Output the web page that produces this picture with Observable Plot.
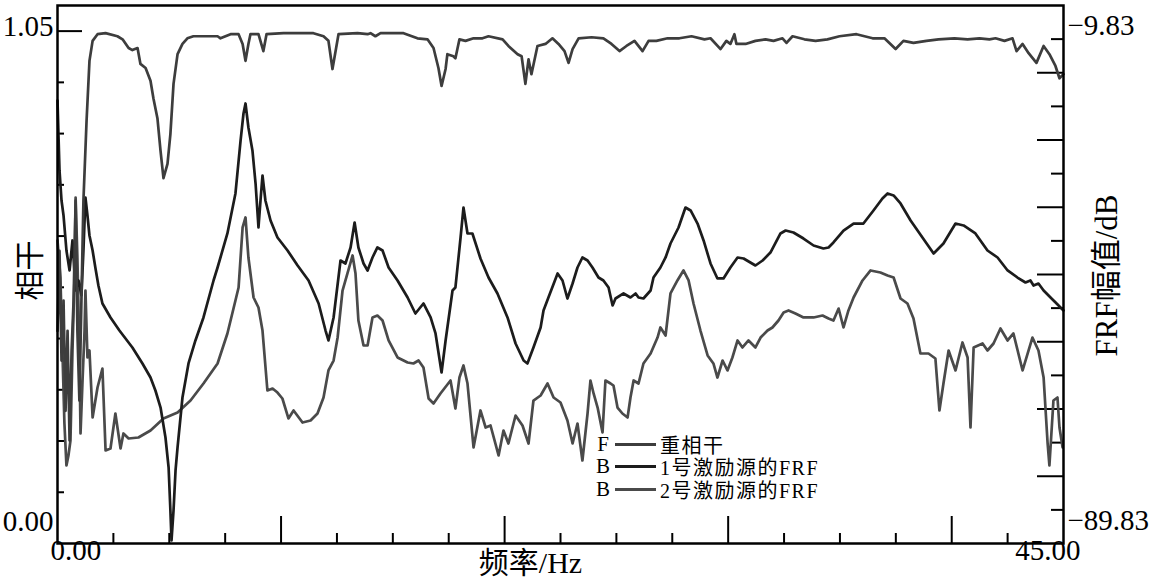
<!DOCTYPE html>
<html><head><meta charset="utf-8">
<script src="https://cdn.jsdelivr.net/npm/d3@7"></script>
<script src="https://cdn.jsdelivr.net/npm/@observablehq/plot@0.6"></script>
<style>
html,body{margin:0;padding:0;background:#fff}
#wrap{position:relative;width:1152px;height:586px;overflow:hidden}
#legend{position:absolute;left:595px;top:433px;font-family:"Liberation Serif","Noto Sans CJK SC",serif;font-size:20px;color:#000}
.row{display:flex;align-items:center;height:22.5px;white-space:nowrap}
.k{flex:none;width:16px;text-align:center;font-size:21px}
.lab{flex:none;letter-spacing:1.5px}
.ln{flex:none;display:inline-block;width:41px;height:3px;margin:0 4px}
</style></head>
<body><div id="wrap"><div id="legend"></div></div>
<script>
// ---- axis / label data ----
const xDomain = [0, 45];
const cohMax = 1.05;
const dbRange = [-89.83, -9.83];
const xMajor = [10, 20, 30, 40];
const xMinor = [2.5, 5, 7.5, 12.5, 15, 17.5, 22.5, 25, 27.5, 32.5, 35, 37.5, 42.5];
const leftMinor = [0.1, 0.2, 0.3, 0.4, 0.5, 0.6, 0.7, 0.8, 0.9];
const leftMajor = [1.0];
const rightMajor = [-19.83, -29.83, -39.83, -49.83, -59.83, -69.83, -79.83];
const rightMinor = [-14.83, -24.83, -34.83, -44.83, -54.83, -64.83, -74.83, -84.83];
const leftLabels = ["0.00", "1.05"];
const rightLabels = ["\u221289.83", "\u22129.83"];
const xLabels = ["0.00", "45.00"];
const xTitle = "频率/Hz";
const yTitleLeft = "相干";
const yTitleRight = "FRF幅值/dB";
const legendKeys = ["F", "B", "B"];
const legendLabels = ["重相干", "1号激励源的FRF", "2号激励源的FRF"];
const seriesColors = ["#3d3d3d", "#1c1c1c", "#4a4a4a"];

// ---- coherence ----
const cohF = [0.00,0.09,0.18,0.27,0.36,0.45,0.54,0.63,0.72,0.81,
0.89,0.98,1.07,1.16,1.30,1.43,1.57,1.79,2.15,2.68,
2.91,3.18,3.35,3.58,3.71,3.94,4.16,4.29,4.47,4.61,
4.74,4.92,5.05,5.19,5.37,5.59,5.81,6.08,7.16,7.29,
7.74,8.10,8.28,8.41,8.54,8.63,8.99,9.21,9.35,10.11,
11.45,11.90,12.12,12.30,12.44,12.57,13.42,13.87,14.00,14.22,
14.45,15.48,16.10,16.55,16.82,17.04,17.18,17.36,17.44,17.71,
17.80,17.98,18.25,18.61,19.01,19.28,19.91,20.17,20.58,20.76,
20.93,21.07,21.20,21.47,21.83,22.14,22.41,22.68,22.86,23.04,
23.31,23.89,24.42,24.78,25.14,25.45,25.81,26.17,26.44,26.79,
27.29,27.82,28.36,28.94,29.21,29.66,29.92,30.10,30.28,30.37,
30.78,31.22,31.67,32.03,32.43,32.61,32.88,33.41,33.91,34.44,
34.98,35.74,36.46,36.99,37.49,37.84,38.29,38.87,39.41,40.12,
40.71,41.24,41.69,41.96,42.36,42.72,42.90,43.17,43.44,43.79,
44.11,44.37,44.64,44.82,45.00];
const cohV = [0.415,0.571,0.357,0.474,0.259,0.415,0.201,0.376,0.474,0.669,
0.415,0.279,0.474,0.669,0.825,0.942,0.981,0.994,0.996,0.990,
0.984,0.967,0.963,0.967,0.936,0.928,0.903,0.869,0.830,0.766,
0.713,0.741,0.799,0.897,0.955,0.975,0.986,0.990,0.990,0.986,
0.994,0.994,0.975,0.942,0.975,0.994,0.994,0.961,0.994,0.996,
0.996,0.990,0.981,0.926,0.961,0.994,0.996,0.994,0.996,0.990,
0.996,0.996,0.986,0.984,0.967,0.928,0.893,0.926,0.955,0.951,
0.947,0.984,0.981,0.986,0.986,0.990,0.984,0.971,0.955,0.951,
0.897,0.945,0.916,0.971,0.975,0.986,0.975,0.961,0.938,0.965,
0.986,0.988,0.986,0.975,0.961,0.971,0.981,0.961,0.981,0.981,
0.986,0.986,0.990,0.984,0.986,0.965,0.981,0.975,0.994,0.975,
0.975,0.981,0.984,0.981,0.986,0.977,0.990,0.984,0.981,0.984,
0.990,0.994,0.986,0.986,0.965,0.981,0.977,0.981,0.984,0.986,
0.984,0.986,0.984,0.986,0.981,0.986,0.961,0.975,0.957,0.938,
0.971,0.955,0.932,0.908,0.916];

// ---- FRF of source 1 (dB) ----
const frf1F = [0.00,0.09,0.18,0.27,0.40,0.54,0.67,0.81,0.94,1.07,
1.16,1.25,1.34,1.43,1.57,1.70,1.83,2.01,2.37,2.77,
3.35,3.80,4.16,4.38,4.61,4.83,4.97,5.05,5.10,5.19,
5.28,5.37,5.59,5.86,6.17,6.53,6.98,7.16,7.60,7.96,
8.19,8.32,8.41,8.54,8.72,8.86,8.99,9.08,9.17,9.30,
9.53,9.84,10.29,10.74,11.23,11.68,11.99,12.12,12.35,12.66,
12.88,13.11,13.29,13.46,13.69,13.87,14.09,14.31,14.54,14.81,
15.21,15.66,16.01,16.37,16.69,16.91,17.18,17.36,17.67,17.80,
18.03,18.16,18.34,18.56,18.92,19.28,19.68,20.13,20.49,20.85,
21.02,21.29,21.61,21.74,21.96,22.37,22.59,22.81,23.04,23.26,
23.48,23.71,23.93,24.20,24.42,24.65,24.83,24.96,25.32,25.63,
25.86,25.99,26.21,26.53,26.66,26.97,27.20,27.42,27.78,28.09,
28.32,28.63,28.90,29.21,29.52,29.79,30.10,30.42,30.69,31.22,
31.54,31.89,32.34,32.57,32.92,33.37,33.82,34.26,34.49,34.71,
35.16,35.61,36.05,36.50,36.90,37.13,37.40,37.71,38.16,38.69,
39.19,39.63,40.17,40.53,41.06,41.60,42.05,42.50,42.94,43.30,
43.52,43.66,43.88,44.11,44.42,44.69,45.00];
const frf1Db = [-23.96,-34.36,-38.83,-41.06,-46.26,-49.23,-44.77,-52.21,-50.72,-52.95,
-46.26,-38.38,-41.06,-44.03,-46.26,-48.94,-51.47,-54.14,-56.22,-58.16,
-60.68,-63.06,-65.15,-67.08,-69.61,-74.07,-78.53,-84.92,-89.38,-84.92,
-78.97,-75.55,-68.12,-63.06,-59.64,-56.22,-50.72,-48.79,-43.73,-37.78,
-29.90,-25.89,-24.40,-27.97,-31.39,-36.30,-42.84,-38.83,-35.11,-38.83,
-41.80,-44.33,-46.26,-48.49,-50.72,-54.14,-58.16,-59.64,-56.22,-47.75,
-48.19,-45.81,-42.10,-45.81,-48.19,-49.23,-47.30,-45.81,-46.26,-48.79,
-50.72,-53.25,-55.63,-54.14,-56.22,-58.60,-64.40,-59.64,-52.21,-51.76,
-44.33,-39.87,-43.73,-43.73,-47.45,-50.28,-52.65,-56.22,-60.09,-62.62,
-63.06,-60.68,-57.71,-55.18,-53.25,-49.68,-50.72,-53.40,-51.17,-48.79,
-47.30,-47.75,-48.79,-50.28,-50.72,-51.76,-54.44,-53.40,-52.65,-53.25,
-52.65,-53.25,-53.40,-52.21,-50.28,-48.79,-47.30,-45.22,-42.84,-39.87,
-40.31,-42.25,-44.77,-48.19,-50.42,-50.42,-48.79,-47.30,-47.45,-48.49,
-47.75,-46.56,-43.73,-43.29,-43.58,-44.48,-45.52,-45.96,-45.81,-45.07,
-43.29,-42.25,-42.25,-40.31,-38.53,-37.78,-38.08,-39.27,-41.80,-44.33,
-46.71,-45.22,-42.25,-42.54,-43.73,-46.26,-47.30,-49.23,-50.28,-51.02,
-50.72,-51.47,-51.17,-52.21,-53.25,-54.14,-55.18];

// ---- FRF of source 2 (dB) ----
const frf2F = [0.00,0.13,0.22,0.31,0.40,0.49,0.58,0.67,0.76,0.81,
0.89,0.98,1.03,1.12,1.21,1.25,1.34,1.43,1.57,1.79,
2.01,2.15,2.37,2.59,2.82,2.95,3.18,3.62,4.16,4.74,
5.37,5.95,6.53,7.16,7.60,7.96,8.10,8.28,8.41,8.54,
8.77,8.99,9.17,9.39,9.62,9.84,10.06,10.33,10.56,10.96,
11.32,11.63,11.90,12.12,12.35,12.53,12.75,12.97,13.20,13.33,
13.46,13.69,13.87,14.09,14.31,14.54,14.81,15.21,15.66,15.92,
16.15,16.37,16.60,16.82,17.13,17.58,17.80,17.98,18.16,18.34,
18.61,18.92,19.15,19.37,19.73,19.95,20.17,20.49,20.80,21.07,
21.29,21.61,21.92,22.19,22.50,22.81,23.04,23.26,23.48,23.71,
23.84,23.98,24.16,24.38,24.51,24.74,24.87,25.05,25.27,25.50,
25.63,25.77,25.99,26.21,26.53,26.84,26.97,27.20,27.42,27.73,
28.00,28.23,28.45,28.76,29.08,29.34,29.52,29.75,29.97,30.19,
30.42,30.64,30.91,31.22,31.45,31.76,31.98,32.25,32.48,32.70,
33.01,33.37,33.82,34.22,34.49,34.71,34.94,35.16,35.38,35.61,
36.01,36.37,36.81,37.13,37.40,37.71,38.02,38.29,38.60,38.96,
39.27,39.45,39.63,39.86,40.17,40.48,40.71,40.84,40.98,41.38,
41.60,41.87,42.18,42.50,42.76,43.17,43.61,43.88,44.11,44.29,
44.37,44.55,44.73,44.82,44.96];
const frf2Db = [-44.77,-50.28,-61.13,-71.99,-78.23,-76.74,-74.51,-61.13,-50.28,-38.38,
-47.30,-61.13,-73.47,-65.59,-58.16,-52.21,-62.17,-61.13,-71.09,-66.63,
-63.81,-76.00,-75.70,-70.50,-75.70,-73.47,-74.22,-74.07,-73.03,-71.24,
-70.35,-68.57,-66.04,-63.06,-58.60,-53.70,-51.76,-42.84,-41.35,-47.30,
-53.25,-54.74,-58.16,-67.08,-66.78,-67.38,-68.27,-71.24,-70.05,-71.84,
-71.54,-70.50,-68.12,-64.10,-62.62,-59.20,-52.21,-49.68,-47.00,-49.68,
-56.67,-60.39,-60.39,-56.22,-55.93,-56.67,-59.64,-62.17,-62.92,-63.06,
-62.62,-63.66,-68.27,-69.01,-67.52,-65.59,-69.76,-65.15,-63.36,-66.04,
-75.55,-70.05,-72.58,-72.28,-76.74,-73.03,-74.96,-70.80,-72.28,-74.96,
-68.57,-67.82,-66.04,-68.12,-68.86,-71.54,-74.96,-71.99,-77.49,-70.50,
-65.59,-67.52,-69.61,-73.32,-65.59,-66.04,-66.34,-69.61,-70.50,-71.09,
-68.12,-65.59,-66.04,-63.06,-61.58,-59.20,-57.71,-58.90,-52.65,-50.72,
-49.23,-50.72,-54.14,-58.16,-61.87,-63.06,-65.15,-62.62,-64.10,-62.17,
-59.64,-60.68,-59.64,-60.68,-59.20,-58.16,-57.71,-56.67,-55.48,-55.18,
-55.63,-56.22,-56.22,-55.93,-56.37,-56.67,-54.89,-57.71,-55.18,-53.25,
-50.72,-49.23,-49.53,-49.98,-50.28,-53.40,-54.14,-56.37,-61.58,-61.58,
-62.32,-70.05,-66.04,-61.13,-64.10,-59.94,-62.17,-72.58,-60.68,-60.09,
-61.13,-60.09,-57.86,-59.64,-58.60,-64.10,-59.20,-61.13,-65.15,-74.96,
-78.23,-68.57,-68.12,-72.58,-75.55];

// ---- build ----
const serif = '"Liberation Serif","Noto Sans CJK SC",serif';
const toY = db => (db - dbRange[0]) / (dbRange[1] - dbRange[0]) * cohMax;
const coh = cohF.map((f, i) => ({f, v: cohV[i]}));
const frf1 = frf1F.map((f, i) => ({f, v: toY(frf1Db[i])}));
const frf2 = frf2F.map((f, i) => ({f, v: toY(frf2Db[i])}));
const blank = () => "";
const tickCommon = {label: null, tickFormat: blank, stroke: "#000", strokeWidth: 2};
const txt = {text: d => d, fill: "#000"};

const chart = Plot.plot({
  width: 1152, height: 586,
  marginLeft: 57, marginRight: 89, marginTop: 5, marginBottom: 43,
  style: {fontFamily: serif, background: "#fff", color: "#000", overflow: "visible"},
  x: {domain: xDomain, axis: null},
  y: {domain: [0, cohMax], axis: null},
  marks: [
    Plot.axisY({anchor: "left", ticks: leftMinor, tickSize: -7, ...tickCommon}),
    Plot.axisY({anchor: "left", ticks: leftMajor, tickSize: -25, ...tickCommon}),
    Plot.axisY({anchor: "right", ticks: rightMinor.map(toY), tickSize: -13, ...tickCommon}),
    Plot.axisY({anchor: "right", ticks: rightMajor.map(toY), tickSize: -27, ...tickCommon}),
    Plot.axisX({anchor: "bottom", ticks: xMinor, tickSize: -10, ...tickCommon}),
    Plot.axisX({anchor: "bottom", ticks: xMajor, tickSize: -27, ...tickCommon}),
    Plot.line(frf2, {x: "f", y: "v", stroke: seriesColors[2], strokeWidth: 2.7, strokeLinejoin: "round"}),
    Plot.line(frf1, {x: "f", y: "v", stroke: seriesColors[1], strokeWidth: 2.7, strokeLinejoin: "round"}),
    Plot.line(coh, {x: "f", y: "v", stroke: seriesColors[0], strokeWidth: 2.7, strokeLinejoin: "round"}),
    Plot.frame({stroke: "#000", strokeWidth: 2.5}),
    Plot.text([leftLabels[1]], {...txt, frameAnchor: "top-left", textAnchor: "end", dx: -4, dy: 10, fontSize: 29}),
    Plot.text([leftLabels[0]], {...txt, frameAnchor: "bottom-left", textAnchor: "end", dx: -4, dy: -13, fontSize: 29}),
    Plot.text([rightLabels[1]], {...txt, frameAnchor: "top-right", textAnchor: "start", dx: 4, dy: 9, fontSize: 29}),
    Plot.text([rightLabels[0]], {...txt, frameAnchor: "bottom-right", textAnchor: "start", dx: 4, dy: -14, fontSize: 29}),
    Plot.text([xLabels[0]], {...txt, frameAnchor: "bottom-left", textAnchor: "start", dx: -7, dy: 16, fontSize: 29}),
    Plot.text([xLabels[1]], {...txt, frameAnchor: "bottom-right", textAnchor: "end", dx: 17, dy: 16, fontSize: 29}),
    Plot.text([xTitle], {...txt, frameAnchor: "bottom", textAnchor: "middle", dx: -30, dy: 29, fontSize: 30}),
    Plot.text([yTitleLeft], {...txt, frameAnchor: "left", textAnchor: "middle", rotate: -90, dx: -27, dy: -4, fontSize: 30}),
    Plot.text([yTitleRight], {...txt, frameAnchor: "right", textAnchor: "middle", rotate: -90, dx: 44, dy: 1, fontSize: 31})
  ]
});
document.getElementById("wrap").prepend(chart);

// legend
const legend = document.getElementById("legend");
legendKeys.forEach((k, i) => {
  const row = document.createElement("div");
  row.className = "row";
  const key = document.createElement("span"); key.className = "k"; key.textContent = k;
  const ln = document.createElement("span"); ln.className = "ln"; ln.style.background = seriesColors[i];
  const lab = document.createElement("span"); lab.className = "lab"; lab.textContent = legendLabels[i];
  row.append(key, ln, lab);
  legend.append(row);
});
</script></body></html>
